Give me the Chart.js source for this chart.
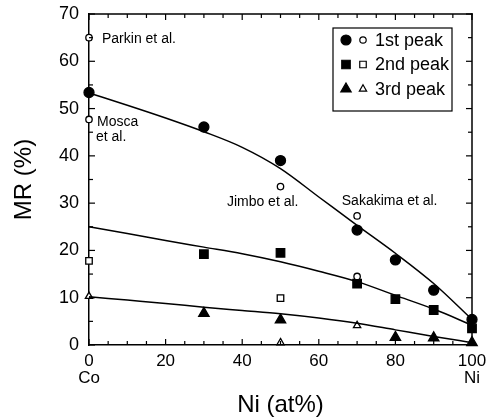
<!DOCTYPE html>
<html>
<head>
<meta charset="utf-8">
<script src="https://cdn.jsdelivr.net/npm/chart.js@4.4.1/dist/chart.umd.min.js"></script>
<style>
  html, body { margin: 0; padding: 0; background: #fff; }
  #wrap { width: 491px; height: 420px; }
</style>
</head>
<body>
<div id="wrap"><canvas id="mrChart"></canvas></div>
<script>
// measured points (this work), x = Ni at%
var xFilled1 = [0, 30, 50, 70, 80, 90, 100];
var peak1 = [53.4, 46.1, 39.0, 24.3, 18.0, 11.6, 5.4];
var xFilled2 = [30, 50, 70, 80, 90, 100];
var peak2 = [19.2, 19.5, 13.0, 9.7, 7.4, 3.5];
var xFilled3 = [30, 50, 80, 90, 100];
var peak3 = [6.7, 5.3, 1.6, 1.5, 0.5];

// other groups (open symbols)
var xOpen1 = [0, 0, 50, 70, 70];
var open1 = [65.0, 47.7, 33.5, 27.3, 14.5];
var xOpen2 = [0, 50];
var open2 = [17.8, 9.9];
var xOpen3 = [0, 50, 70];
var open3 = [10.3, 0.5, 4.1];

// guide curves drawn through the data
var xCurve = [0, 10, 20, 30, 40, 50, 60, 70, 80, 90, 100];
var curve1 = [53.3, 50.7, 48.0, 45.1, 41.8, 37.3, 31.3, 25.3, 19.4, 13.0, 5.4];
var curve2 = [25.0, 23.6, 22.1, 20.7, 19.3, 17.6, 15.6, 13.4, 10.5, 7.6, 4.2];
var curve3 = [10.2, 9.5, 8.8, 8.0, 7.3, 6.6, 5.7, 4.6, 3.2, 1.8, 0.5];

var legendNames = ['1st peak', '2nd peak', '3rd peak'];
var notes = [
    { text: 'Parkin et al.', x: 0, y: 65, dx: 13, dy: 1 },
    { text: 'Mosca', x: 0, y: 47.7, dx: 8, dy: 3 },
    { text: 'et al.', x: 0, y: 47.7, dx: 7, dy: 18 },
    { text: 'Jimbo et al.', x: 36, y: 30.3, dx: 0, dy: 0 },
    { text: 'Sakakima et al.', x: 66, y: 30.5, dx: 0, dy: 0 }
];

var FONT = '"Liberation Sans", Arial, Helvetica, sans-serif';

function pts(xs, ys) {
    return xs.map(function (x, i) { return { x: x, y: ys[i] }; });
}

function marks(label, xs, ys, style, r, filled) {
    return {
        label: label,
        data: pts(xs, ys),
        showLine: false,
        pointStyle: style,
        pointRadius: r,
        pointHoverRadius: r,
        pointBorderWidth: 1.3,
        borderColor: '#000',
        pointBackgroundColor: filled ? '#000' : '#fff',
        pointBorderColor: '#000',
        clip: false
    };
}

function curve(label, ys) {
    return {
        label: label,
        data: pts(xCurve, ys),
        showLine: true,
        borderColor: '#000',
        borderWidth: 1.5,
        pointRadius: 0,
        cubicInterpolationMode: 'monotone',
        clip: false
    };
}

// top/right edges, inward ticks, notes and legend
var framePlugin = {
    id: 'frame',
    afterDraw: function (chart) {
        var ctx = chart.ctx;
        var xs = chart.scales.x, ys = chart.scales.y;
        var L = Math.round(xs.left), R = Math.round(xs.right);
        var T = Math.round(ys.top), B = Math.round(ys.bottom);
        ctx.save();
        ctx.fillStyle = '#000';
        ctx.fillRect(L - 0.75, T - 0.75, R - L + 1.5, 1.5);
        ctx.fillRect(R - 0.75, T - 0.75, 1.5, B - T + 1.5);

        for (var v = 0; v <= 100; v += 5) {
            var px = xs.getPixelForValue(v);
            var len = v % 20 === 0 ? 6 : 4;
            ctx.fillRect(px - 0.6, B - len, 1.2, len);
            ctx.fillRect(px - 0.6, T, 1.2, len);
        }
        for (var w = 0; w <= 70; w += 5) {
            var py = ys.getPixelForValue(w);
            var l2 = w % 10 === 0 ? 6 : 4;
            ctx.fillRect(L, py - 0.6, l2, 1.2);
            ctx.fillRect(R - l2, py - 0.6, l2, 1.2);
        }

        ctx.font = '14px ' + FONT;
        ctx.textBaseline = 'middle';
        ctx.textAlign = 'left';
        notes.forEach(function (n) {
            ctx.fillText(n.text, xs.getPixelForValue(n.x) + n.dx, ys.getPixelForValue(n.y) + n.dy);
        });

        // legend box
        var bx = R - 139, by = T + 14, bw = 119, bh = 83;
        ctx.strokeStyle = '#000';
        ctx.lineWidth = 1.2;
        ctx.strokeRect(bx, by, bw, bh);
        var styles = [['circle', 5, 3.2], ['rect', 6, 4.6], ['triangle', 6, 4.2]];
        ctx.font = '18px ' + FONT;
        for (var i = 0; i < 3; i++) {
            var cy = by + 12 + i * 24.5;
            ctx.fillStyle = '#000';
            ctx.strokeStyle = '#000';
            Chart.helpers.drawPoint(ctx, { pointStyle: styles[i][0], radius: styles[i][1], rotation: 0, borderWidth: 1.2 }, bx + 13, cy);
            ctx.fillStyle = '#fff';
            Chart.helpers.drawPoint(ctx, { pointStyle: styles[i][0], radius: styles[i][2], rotation: 0, borderWidth: 1.2 }, bx + 30, cy);
            ctx.fillStyle = '#000';
            ctx.fillText(legendNames[i], bx + 42, cy + 1);
        }
        ctx.restore();
    }
};

document.addEventListener('DOMContentLoaded', function () {
    var ctx = document.getElementById('mrChart').getContext('2d');

    new Chart(ctx, {
        type: 'scatter',
        data: {
            datasets: [
                curve('fit 1', curve1),
                curve('fit 2', curve2),
                curve('fit 3', curve3),
                marks('1st peak', xFilled1, peak1, 'circle', 5, true),
                marks('1st peak (others)', xOpen1, open1, 'circle', 3.2, false),
                marks('2nd peak', xFilled2, peak2, 'rect', 6, true),
                marks('2nd peak (others)', xOpen2, open2, 'rect', 4.6, false),
                marks('3rd peak', xFilled3, peak3, 'triangle', 6, true),
                marks('3rd peak (others)', xOpen3, open3, 'triangle', 4.2, false)
            ]
        },
        options: {
            responsive: true,
            maintainAspectRatio: false,
            animation: false,
            layout: { padding: { left: 0, top: 14, right: 19, bottom: 0 } },
            plugins: {
                legend: { display: false },
                tooltip: { enabled: false }
            },
            scales: {
                x: {
                    type: 'linear',
                    min: 0,
                    max: 100,
                    grid: { display: false, drawTicks: false },
                    border: { display: true, color: '#000', width: 1.5 },
                    ticks: {
                        stepSize: 20,
                        color: '#000',
                        padding: 7,
                        maxRotation: 0,
                        font: { family: FONT, size: 17, lineHeight: 1.05 },
                        callback: function (v) {
                            if (v === 0) return ['0', 'Co'];
                            if (v === 100) return ['100', 'Ni'];
                            return String(v);
                        }
                    },
                    title: {
                        display: true,
                        text: 'Ni (at%)',
                        color: '#000',
                        padding: { top: 0, bottom: 0 },
                        font: { family: FONT, size: 24 }
                    },
                    afterFit: function (scale) {
                        scale.height = 75;
                        scale.paddingLeft = 0;
                        scale.paddingRight = 0;
                    }
                },
                y: {
                    min: 0,
                    max: 70,
                    grid: { display: false, drawTicks: false },
                    border: { display: true, color: '#000', width: 1.5 },
                    ticks: {
                        stepSize: 10,
                        color: '#000',
                        padding: 10,
                        font: { family: FONT, size: 18 }
                    },
                    title: {
                        display: true,
                        text: 'MR (%)',
                        color: '#000',
                        padding: { top: 10, bottom: 0 },
                        font: { family: FONT, size: 24 }
                    },
                    afterFit: function (scale) {
                        scale.width = 89;
                        scale.paddingTop = 0;
                        scale.paddingBottom = 0;
                    }
                }
            }
        },
        plugins: [framePlugin]
    });
});
</script>
</body>
</html>
